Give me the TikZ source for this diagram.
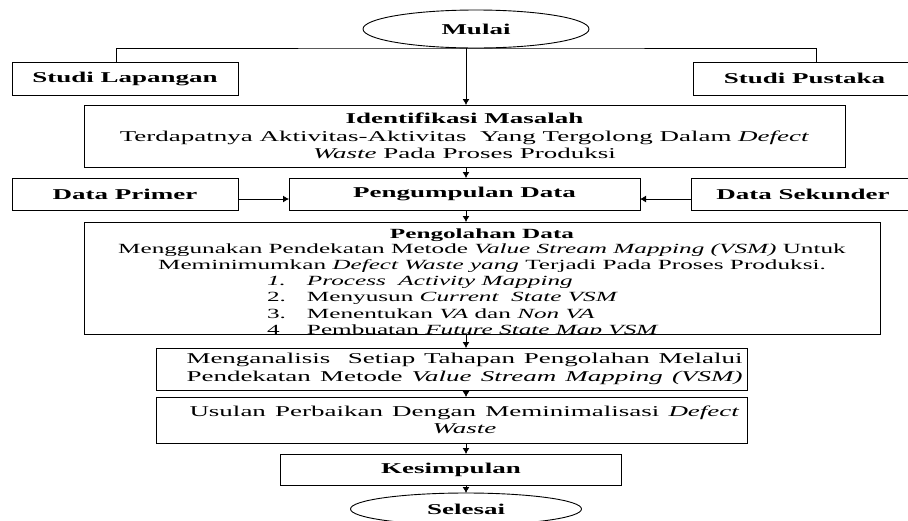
\documentclass[tikz,border=0pt]{standalone}
\usepackage{fontspec}
\setmainfont{Liberation Serif}[FakeStretch=1.8]
\usetikzlibrary{shapes.geometric,arrows.meta}
\begin{document}
\begin{tikzpicture}[x=1pt,y=-1pt,
  every node/.style={inner sep=0pt, outer sep=0pt},
  box/.style={draw, line width=0.9pt, rectangle, align=center,
    font=\fontsize{15}{17.5}\selectfont},
  head/.style={box, font=\fontsize{15}{17.5}\selectfont\bfseries},
  term/.style={draw, line width=0.9pt, ellipse,
    font=\fontsize{15}{17.5}\selectfont\bfseries},
  small/.style={font=\fontsize{14}{15.8}\selectfont},
  list/.style={font=\fontsize{14}{16.5}\selectfont},
  link/.style={line width=0.9pt},
  arr/.style={link, -{Latex[length=6pt,width=7pt]}},
]
\useasboundingbox (0,0) rectangle (908,520);
% axis of the main flow and the two branch lines
\coordinate (ax) at (466,0);
\coordinate (lx) at (116,0);
\coordinate (rx) at (816,0);

% start
\node[term, minimum width=226, minimum height=38] (mulai) at (476,29) {Mulai};

% literature and field studies
\node[head, minimum width=226, minimum height=33] (studiL) at (125,78.5) {Studi Lapangan};
\node[head, minimum width=223, minimum height=33] (studiP) at (804.5,78.5) {Studi Pustaka};

% problem identification
\node[box, minimum width=761, minimum height=62] (ident) at (464.5,136)
  {\textbf{Identifikasi Masalah}\\
   Terdapatnya Aktivitas-Aktivitas\ \ Yang Tergolong Dalam \textit{Defect}\\
   \textit{Waste} Pada Proses Produksi};

% data collection
\node[head, minimum width=226, minimum height=32] (dataP) at (125,194) {Data Primer};
\node[head, minimum width=351, minimum height=32] (pengum) at (464.5,194) {Pengumpulan Data};
\node[head, minimum width=224, minimum height=32] (dataS) at (803,194) {Data Sekunder};

% data processing: the text is clipped by the frame, which is drawn on top
\node[minimum width=796, minimum height=112] (pengol) at (482,278) {};
\begin{scope}
  \clip (pengol.north west) rectangle (pengol.south east);
  \node[small, anchor=base] (pengolA) at (482,238)
    {\begin{tabular}[t]{@{}c@{}}
      \textbf{Pengolahan Data}\\
      Menggunakan Pendekatan Metode \textit{Value Stream Mapping (VSM)} Untuk\\
      \hspace*{20pt}Meminimumkan \textit{Defect Waste yang} Terjadi Pada Proses Produksi.
     \end{tabular}};
  \node[list, anchor=base west] (pengolB) at (267,285)
    {\begin{tabular}[t]{@{}l@{}}
      \makebox[40pt][l]{\textit{1.}}\textit{Process\ \ Activity Mapping}\\
      \makebox[40pt][l]{2.}Menyusun \textit{Current\ \ State VSM}\\
      \makebox[40pt][l]{3.}Menentukan \textit{VA} dan \textit{Non VA}\\
      \makebox[40pt][l]{4}Pembuatan \textit{Future State Map VSM}
     \end{tabular}};
\end{scope}
\draw[link] (pengol.north west) rectangle (pengol.south east);

% analysis, proposal, conclusion, end
\node[box, minimum width=591, minimum height=42] (analisis) at (451.5,369)
  {\hspace*{26pt}\makebox[556pt][s]{Menganalisis\ \ Setiap Tahapan Pengolahan Melalui}\\
   \hspace*{26pt}\makebox[556pt][s]{Pendekatan Metode \textit{Value Stream Mapping (VSM)}}};
\node[box, minimum width=591, minimum height=46] (usulan) at (451.5,420)
  {\hspace*{26pt}\makebox[550pt][s]{Usulan Perbaikan Dengan Meminimalisasi \textit{Defect}}\\
   \hspace*{26pt}\textit{Waste}};
\node[head, minimum width=341, minimum height=31] (kesim) at (451,469.5) {Kesimpulan};
\node[term, minimum width=231, minimum height=32] (selesai) at (466,509) {Selesai};

% connectors
\draw[link] (studiL.north -| lx) |- (mulai.south) -| (studiP.north -| rx);
\draw[arr] (mulai.south -| ax) -- (ident.north -| ax);
\draw[arr] (ident.south -| ax) -- (pengum.north -| ax);
\draw[arr] ([yshift=-5pt]dataP.east) -- ([yshift=-5pt]pengum.west);
\draw[arr] ([yshift=-5pt]dataS.west) -- ([yshift=-5pt]pengum.east);
\draw[arr] (pengum.south -| ax) -- (pengol.north -| ax);
\draw[arr] (pengol.south -| ax) -- (analisis.north -| ax);
\draw[arr] (analisis.south -| ax) -- (usulan.north -| ax);
\draw[arr] (usulan.south -| ax) -- (kesim.north -| ax);
\draw[arr] (kesim.south -| ax) -- (selesai.north -| ax);
\end{tikzpicture}
\end{document}
